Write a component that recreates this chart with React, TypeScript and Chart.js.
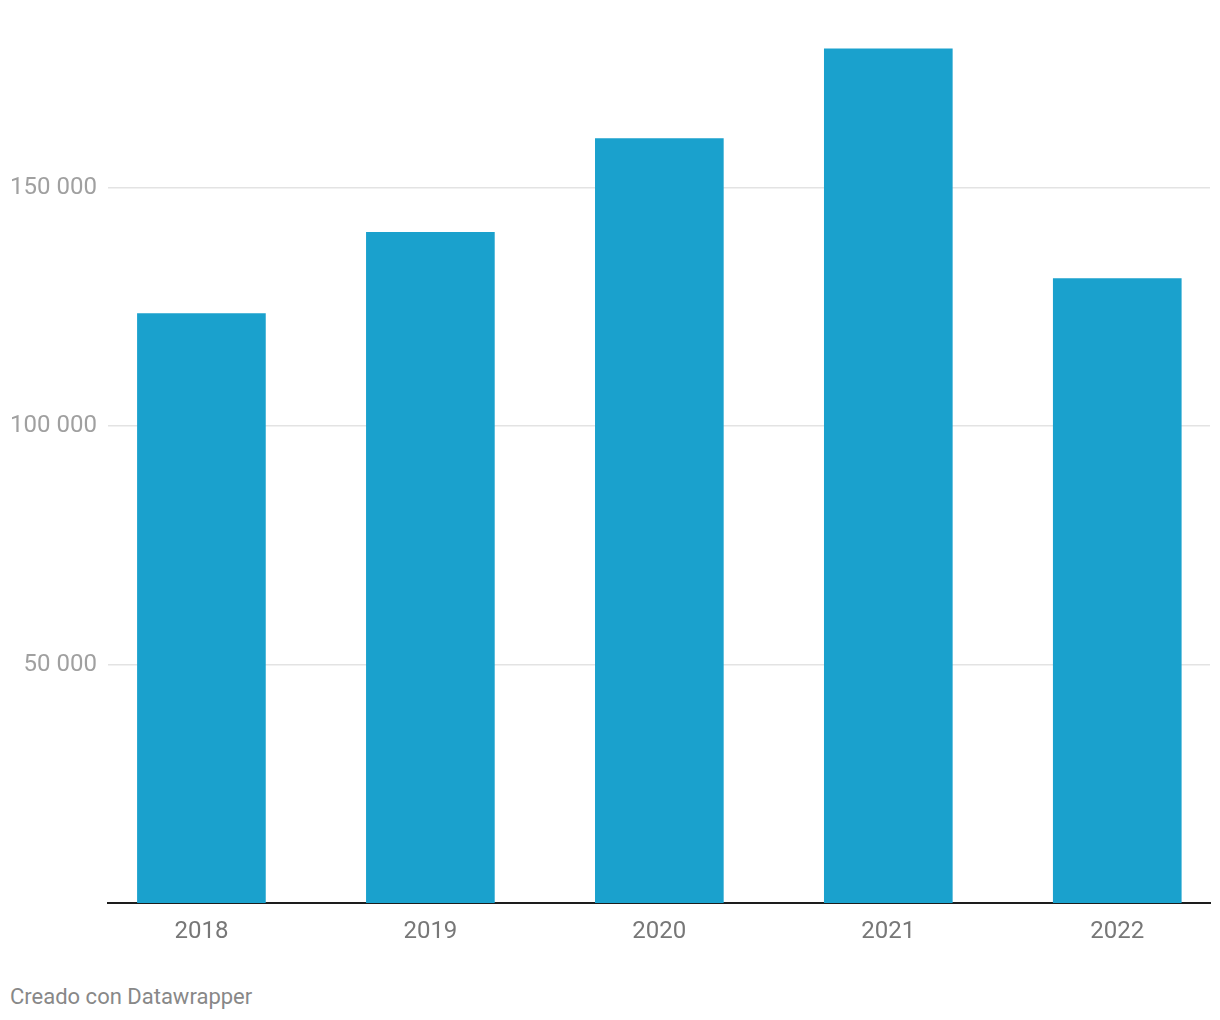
import React, { useEffect, useRef } from "react";
import { Chart, registerables } from "chart.js";

Chart.register(...registerables);

const categories = ["2018", "2019", "2020", "2021", "2022"];
const values = [123600, 140600, 160300, 179100, 130900];
const yTicks = [50000, 100000, 150000];
const footerText = "Creado con Datawrapper";

const fmt = (v: number) => String(v).replace(/\B(?=(\d{3})+(?!\d))/g, " ");

export default function App() {
  const ref = useRef<HTMLCanvasElement | null>(null);
  useEffect(() => {
    if (!ref.current) return;
    const years = categories.map((c) => Number(c));
    const chart = new Chart(ref.current, {
      type: "bar",
      data: {
        datasets: [
          {
            data: categories.map((c, i) => ({ x: Number(c), y: values[i] })),
            backgroundColor: "#1aa1cd",
            barThickness: 128,
            borderWidth: 0,
          },
        ],
      },
      options: {
        animation: false,
        responsive: false,
        maintainAspectRatio: false,
        layout: { padding: { left: 0, right: 10, top: 44.5, bottom: 0 } },
        plugins: { legend: { display: false }, tooltip: { enabled: false } },
        scales: {
          x: {
            type: "linear",
            offset: false,
            min: 2017.592,
            max: 2022.405,
            afterBuildTicks: (s: any) => {
              s.ticks = years.map((v) => ({ value: v }));
            },
            afterFit: (s: any) => {
              s.height = 57;
            },
            grid: { display: false, drawTicks: false, offset: false },
            border: { display: true, color: "#1d1d1d", width: 2 },
            ticks: {
              padding: 15,
              color: "#777777",
              font: { family: "Roboto", size: 24 },
              callback: (v: any) => String(v),
              autoSkip: false,
              maxRotation: 0,
            },
          },
          y: {
            min: 0,
            max: 180000,
            afterBuildTicks: (s: any) => {
              s.ticks = yTicks.map((v) => ({ value: v }));
            },
            afterFit: (s: any) => {
              s.width = 108;
            },
            grid: { color: "#e3e3e3", lineWidth: 1.5, drawTicks: false },
            border: { display: false },
            ticks: {
              padding: 11,
              color: "#a0a0a0",
              font: { family: "Roboto", size: 24 },
              callback: (v: any) => fmt(Number(v)),
            },
          },
        },
      },
    } as any);
    return () => chart.destroy();
  }, []);
  return (
    <div style={{ position: "absolute", left: 0, top: 0, width: 1220, height: 1020, background: "#fff" }}>
      <canvas ref={ref} width={1220} height={960} style={{ display: "block" }} />
      <div
        style={{
          position: "absolute",
          left: 10,
          top: 983,
          fontFamily: "Roboto",
          fontSize: 22,
          color: "#888888",
          lineHeight: "28px",
        }}
      >
        {footerText}
      </div>
    </div>
  );
}
